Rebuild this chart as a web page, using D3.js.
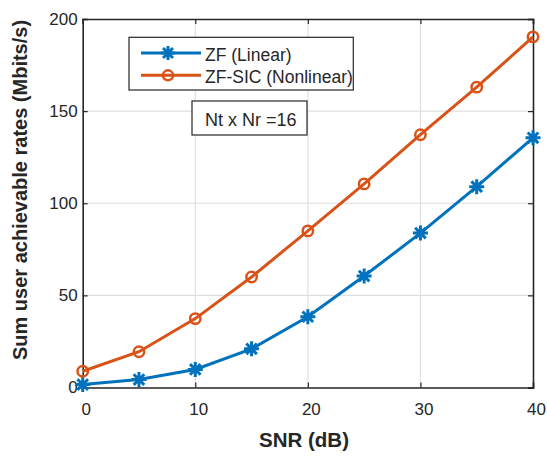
<!DOCTYPE html>
<html lang="en">
<head>
<meta charset="UTF-8">
<title>Sum rates vs SNR</title>
<script src="https://cdn.jsdelivr.net/npm/d3@7"></script>
<style>
    body { margin: 0; background: #fff; }
    svg { display: block; }
    text { font-family: 'Liberation Sans', Arial, sans-serif; fill: #262626; }
</style>
</head>
<body>
<script>
    // values
    const snr = [0, 5, 10, 15, 20, 25, 30, 35, 40];
    const zfLinear = [1.6, 4.3, 9.8, 21, 38.4, 60.5, 83.8, 109, 135.5];
    const zfSic = [8.8, 19.4, 37.4, 60, 85, 110.5, 137.2, 163, 190.3];
    const xTicks = [0, 10, 20, 30, 40];
    const yTicks = [0, 50, 100, 150, 200];

    const W = 547, H = 457;
    const mLeft = 82.7, mRight = 533, mTop = 19, mBottom = 387.5;

    const svg = d3.select("body").append("svg").attr("width", W).attr("height", H);

    const x = d3.scaleLinear().domain([0, 40]).range([mLeft, mRight]);
    const y = d3.scaleLinear().domain([0, 200]).range([mBottom, mTop]);

    // grid
    svg.append("g").selectAll("line").data(xTicks.slice(1, -1)).join("line")
        .attr("x1", d => x(d)).attr("x2", d => x(d))
        .attr("y1", mTop).attr("y2", mBottom)
        .attr("stroke", "#dfdfdf").attr("stroke-width", 1.2);
    svg.append("g").selectAll("line").data(yTicks.slice(1, -1)).join("line")
        .attr("y1", d => y(d)).attr("y2", d => y(d))
        .attr("x1", mLeft).attr("x2", mRight)
        .attr("stroke", "#dfdfdf").attr("stroke-width", 1.2);

    // axes (ticks pointing inward, box on)
    const ax = svg.append("g").attr("transform", `translate(0,${mBottom})`)
        .call(d3.axisBottom(x).tickValues(xTicks).tickSize(-5).tickPadding(15));
    const axTop = svg.append("g").attr("transform", `translate(0,${mTop})`)
        .call(d3.axisTop(x).tickValues(xTicks).tickSize(-5).tickFormat(""));
    const ay = svg.append("g").attr("transform", `translate(${mLeft},0)`)
        .call(d3.axisLeft(y).tickValues(yTicks).tickSize(-5).tickPadding(5));
    const ayR = svg.append("g").attr("transform", `translate(${mRight},0)`)
        .call(d3.axisRight(y).tickValues(yTicks).tickSize(-5).tickFormat(""));

    [ax, axTop, ay, ayR].forEach(g => {
        g.select(".domain").attr("stroke", "#262626").attr("stroke-width", 1.6);
        g.selectAll(".tick line").attr("stroke", "#262626").attr("stroke-width", 1.2);
        g.selectAll("text").attr("font-size", 17).attr("fill", "#262626")
            .style("font-family", "'Liberation Sans', Arial, sans-serif");
    });
    ax.selectAll(".tick text").attr("dx", 3);

    // lines
    const line = d3.line().x((d, i) => x(snr[i])).y(d => y(d));
    const blue = "#0072BD", orange = "#D95319";

    function star(g, cx, cy, r, color) {
        const p = d3.path();
        for (let k = 0; k < 4; k++) {
            const a = k * Math.PI / 4;
            p.moveTo(cx - r * Math.cos(a), cy - r * Math.sin(a));
            p.lineTo(cx + r * Math.cos(a), cy + r * Math.sin(a));
        }
        g.append("path").attr("d", p.toString()).attr("stroke", color)
            .attr("stroke-width", 3).attr("fill", "none");
    }

    svg.append("path").datum(zfLinear).attr("d", line)
        .attr("fill", "none").attr("stroke", blue).attr("stroke-width", 3);
    const gStar = svg.append("g");
    zfLinear.forEach((v, i) => star(gStar, x(snr[i]), y(v), 7.5, blue));

    svg.append("path").datum(zfSic).attr("d", line)
        .attr("fill", "none").attr("stroke", orange).attr("stroke-width", 3);
    svg.append("g").selectAll("circle").data(zfSic).join("circle")
        .attr("cx", (d, i) => x(snr[i])).attr("cy", d => y(d)).attr("r", 5.2)
        .attr("fill", "none").attr("stroke", orange).attr("stroke-width", 2.5);

    // legend
    const lg = svg.append("g");
    lg.append("rect").attr("x", 129).attr("y", 37.3).attr("width", 224.3).attr("height", 52.7)
        .attr("fill", "#fff").attr("stroke", "#262626").attr("stroke-width", 1.2);
    const legendItems = [
        { label: "ZF (Linear)", color: blue, mark: "star", cy: 53 },
        { label: "ZF-SIC (Nonlinear)", color: orange, mark: "circle", cy: 75.3 }
    ];
    legendItems.forEach(it => {
        lg.append("line").attr("x1", 141).attr("x2", 201).attr("y1", it.cy).attr("y2", it.cy)
            .attr("stroke", it.color).attr("stroke-width", 3);
        if (it.mark === "star") star(lg, 168, it.cy, 7, it.color);
        else lg.append("circle").attr("cx", 168).attr("cy", it.cy).attr("r", 5)
            .attr("fill", "none").attr("stroke", it.color).attr("stroke-width", 2.5);
        lg.append("text").attr("x", 205).attr("y", it.cy + 7.5).attr("font-size", 17.5).text(it.label);
    });

    // annotation
    svg.append("rect").attr("x", 192).attr("y", 101).attr("width", 115).attr("height", 34)
        .attr("fill", "#fff").attr("stroke", "#262626").attr("stroke-width", 1.2);
    svg.append("text").attr("x", 205).attr("y", 126).attr("font-size", 18).text("Nt x Nr =16");

    // axis titles
    svg.append("text").attr("x", 304).attr("y", 447)
        .attr("text-anchor", "middle").attr("font-size", 20.5).attr("font-weight", "bold")
        .text("SNR (dB)");
    svg.append("text")
        .attr("transform", "translate(27,190) rotate(-90)")
        .attr("text-anchor", "middle").attr("font-size", 20).attr("font-weight", "bold")
        .text("Sum user achievable rates (Mbits/s)");
</script>
</body>
</html>
